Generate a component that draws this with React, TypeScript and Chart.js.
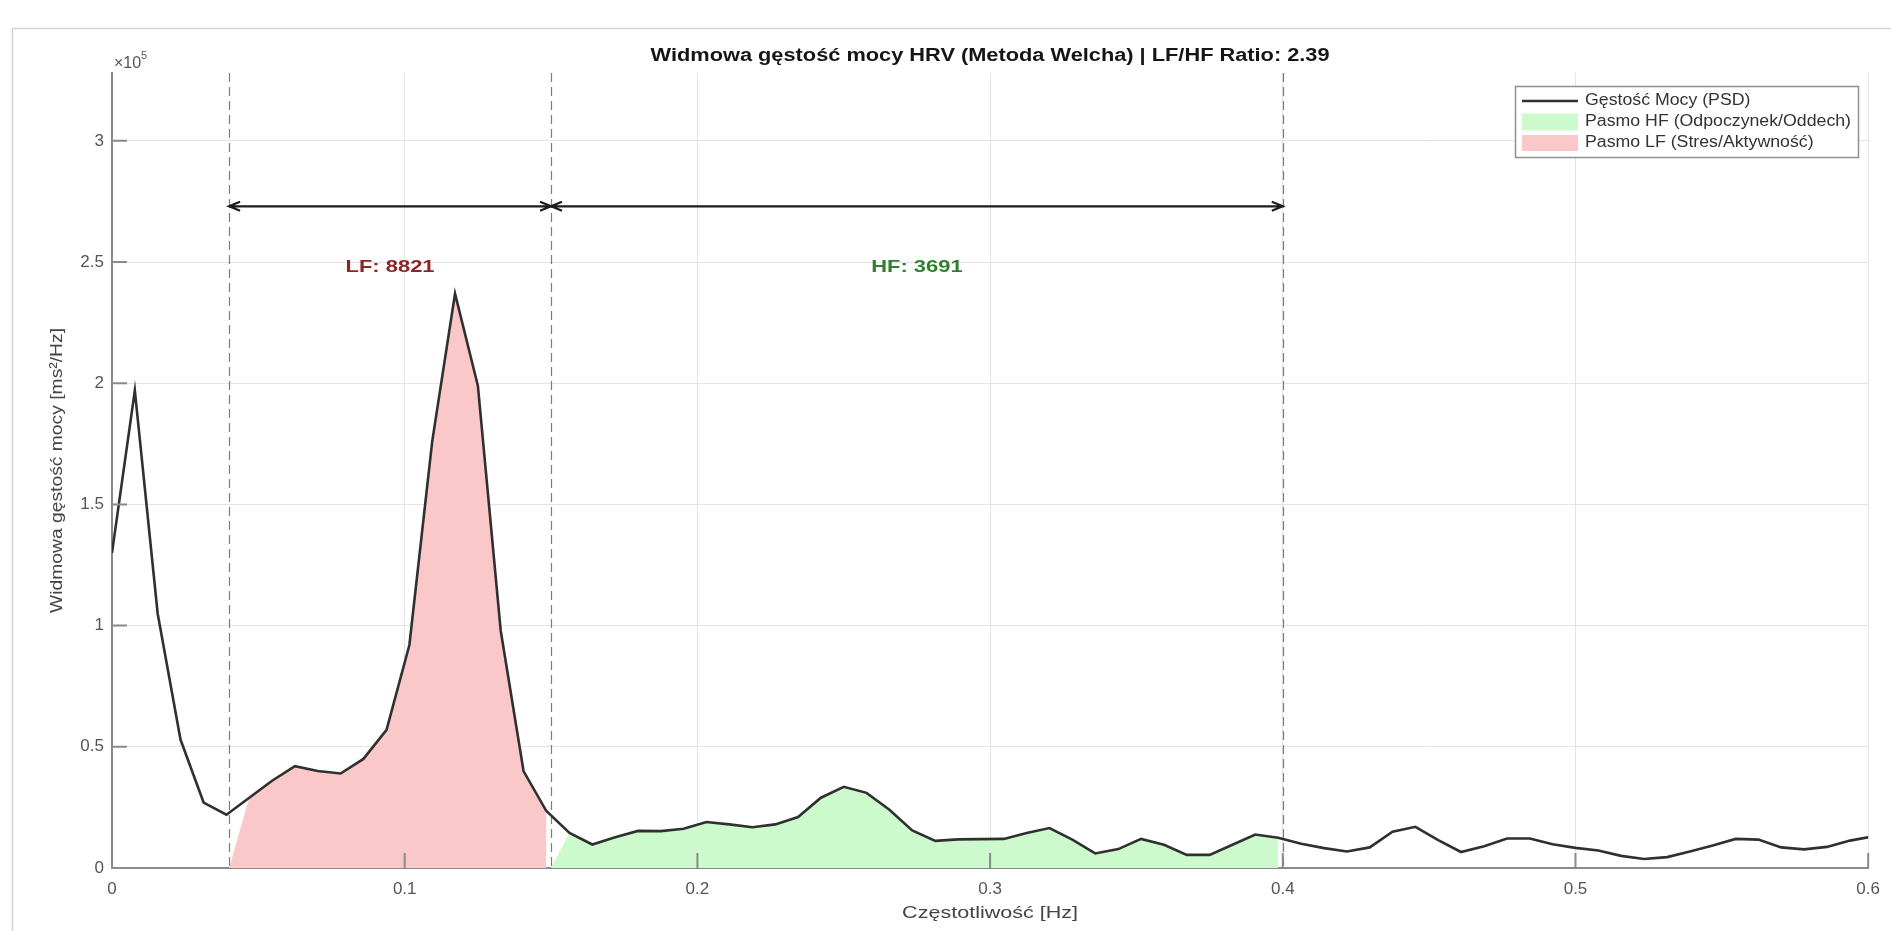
import React, { useEffect, useRef } from 'react';
import { Chart, registerables } from 'chart.js';

Chart.register(...registerables);

// ---------- data ----------
const frequencies = [
  0, 0.0078, 0.0156, 0.0234, 0.0313, 0.0391, 0.0469, 0.0547, 0.0625, 0.0703,
  0.0781, 0.0859, 0.0938, 0.1016, 0.1094, 0.1172, 0.125, 0.1328, 0.1406, 0.1484,
  0.1563, 0.1641, 0.1719, 0.1797, 0.1875, 0.1953, 0.2031, 0.2109, 0.2188, 0.2266,
  0.2344, 0.2422, 0.25, 0.2578, 0.2656, 0.2734, 0.2813, 0.2891, 0.2969, 0.3047,
  0.3125, 0.3203, 0.3281, 0.3359, 0.3438, 0.3516, 0.3594, 0.3672, 0.375, 0.3828,
  0.3906, 0.3984, 0.4063, 0.4141, 0.4219, 0.4297, 0.4375, 0.4453, 0.4531, 0.4609,
  0.4688, 0.4766, 0.4844, 0.4922, 0.5, 0.5078, 0.5156, 0.5234, 0.5313, 0.5391,
  0.5469, 0.5547, 0.5625, 0.5703, 0.5781, 0.5859, 0.5938, 0.6016,
];

const psdValues = [
  130000, 197000, 105000, 53000, 27000, 22000, 29000, 36000, 42000, 40000,
  39000, 45000, 57000, 92000, 176000, 237000, 199000, 98000, 40000, 23500,
  14500, 9700, 12700, 15300, 15200, 16200, 19000, 18000, 16800, 18000,
  21000, 29000, 33500, 31000, 24000, 15500, 11200, 11800, 11900, 12000,
  14400, 16500, 11700, 6000, 7800, 12000, 9600, 5400, 5400, 9600,
  13800, 12500, 10000, 8200, 6800, 8500, 15000, 17000, 11500, 6600,
  9000, 12200, 12200, 9800, 8300, 7200, 5000, 3700, 4500, 6800,
  9300, 12000, 11700, 8500, 7700, 8700, 11300, 13000,
];

const lfBand = [0.04, 0.15];
const hfBand = [0.15, 0.4];
const xTickValues = [0, 0.1, 0.2, 0.3, 0.4, 0.5, 0.6];
const yTickValues = [0, 50000, 100000, 150000, 200000, 250000, 300000];
const xRange = [0, 0.6];
const yRange = [0, 328000];
const lfPower = 8821;
const hfPower = 3691;
const lfHfRatio = 2.39;
const arrowLevel = 273000;
const bandLabelLevel = 248000;
const legendLabels = [
  'Gęstość Mocy (PSD)',
  'Pasmo HF (Odpoczynek/Oddech)',
  'Pasmo LF (Stres/Aktywność)',
];
const chartTitle = `Widmowa gęstość mocy HRV (Metoda Welcha) | LF/HF Ratio: ${lfHfRatio.toFixed(2)}`;
const xAxisTitle = 'Częstotliwość [Hz]';
const yAxisTitle = 'Widmowa gęstość mocy [ms²/Hz]';

// ---------- styles ----------
const FONT = '"Liberation Sans", Arial, Helvetica, sans-serif';
const LINE_COLOR = '#303030';
const HF_FILL = 'rgb(204, 250, 204)';
const LF_FILL = 'rgb(250, 200, 200)';
const LF_TEXT = '#8a2626';
const HF_TEXT = '#2f7f2f';
const AXIS_COLOR = '#8a8a8a';
const GRID_COLOR = '#e4e4e4';

function bandPoints(lo: number, hi: number) {
  const pts: { x: number; y: number }[] = [{ x: lo, y: 0 }];
  let lastX = lo;
  frequencies.forEach((f, i) => {
    if (f >= lo && f < hi) {
      pts.push({ x: f, y: psdValues[i] });
      lastX = f;
    }
  });
  pts.push({ x: lastX, y: 0 });
  return pts;
}

function drawText(
  ctx: CanvasRenderingContext2D,
  text: string,
  x: number,
  y: number,
  o: { size: number; bold?: boolean; color: string; align?: 'center' | 'left'; width?: number; sx?: number; rotate?: boolean }
) {
  ctx.save();
  ctx.font = `${o.bold ? 'bold ' : ''}${o.size}px ${FONT}`;
  ctx.fillStyle = o.color;
  ctx.textBaseline = 'middle';
  ctx.textAlign = 'left';
  const w = ctx.measureText(text).width;
  const sx = o.width ? o.width / w : o.sx ?? 1;
  ctx.translate(x, y);
  if (o.rotate) ctx.rotate(-Math.PI / 2);
  ctx.scale(sx, 1);
  const ox = (o.align ?? 'center') === 'center' ? -w / 2 : 0;
  ctx.fillText(text, ox, 0);
  ctx.restore();
  return sx;
}

function drawDoubleArrow(ctx: CanvasRenderingContext2D, x1: number, x2: number, y: number) {
  const hl = 11;
  const hw = 4.5;
  ctx.save();
  ctx.strokeStyle = '#1c1c1c';
  ctx.lineWidth = 2.2;
  ctx.beginPath();
  ctx.moveTo(x1, y);
  ctx.lineTo(x2, y);
  ctx.moveTo(x1 + hl, y - hw);
  ctx.lineTo(x1, y);
  ctx.lineTo(x1 + hl, y + hw);
  ctx.moveTo(x2 - hl, y - hw);
  ctx.lineTo(x2, y);
  ctx.lineTo(x2 - hl, y + hw);
  ctx.stroke();
  ctx.restore();
}

const overlayPlugin = {
  id: 'overlay',
  beforeDatasetsDraw(chart: any) {
    const { ctx, chartArea, scales } = chart;
    const xs = scales.x;
    ctx.save();
    ctx.strokeStyle = '#7c7c7c';
    ctx.lineWidth = 1.2;
    ctx.setLineDash([9, 5]);
    [lfBand[0], lfBand[1], hfBand[1]].forEach((f) => {
      const px = Math.round(xs.getPixelForValue(f)) + 0.5;
      ctx.beginPath();
      ctx.moveTo(px, chartArea.top);
      ctx.lineTo(px, chartArea.bottom);
      ctx.stroke();
    });
    ctx.restore();
  },
  afterDatasetsDraw(chart: any) {
    const { ctx, chartArea, scales } = chart;
    const xs = scales.x;
    const ys = scales.y;
    // inward tick marks
    ctx.save();
    ctx.strokeStyle = AXIS_COLOR;
    ctx.lineWidth = 2;
    ctx.beginPath();
    yTickValues.forEach((v) => {
      const py = ys.getPixelForValue(v);
      ctx.moveTo(chartArea.left, py);
      ctx.lineTo(chartArea.left + 15, py);
    });
    xTickValues.forEach((v) => {
      const px = xs.getPixelForValue(v);
      ctx.moveTo(px, chartArea.bottom);
      ctx.lineTo(px, chartArea.bottom - 15);
    });
    ctx.stroke();
    ctx.restore();

    // band arrows
    const ay = ys.getPixelForValue(arrowLevel);
    drawDoubleArrow(ctx, xs.getPixelForValue(lfBand[0]), xs.getPixelForValue(lfBand[1]), ay);
    drawDoubleArrow(ctx, xs.getPixelForValue(hfBand[0]), xs.getPixelForValue(hfBand[1]), ay);

    // band labels
    const ly = ys.getPixelForValue(bandLabelLevel);
    const sx = drawText(ctx, `LF: ${lfPower}`, xs.getPixelForValue((lfBand[0] + lfBand[1]) / 2), ly, {
      size: 17, bold: true, color: LF_TEXT, width: 89,
    });
    drawText(ctx, `HF: ${hfPower}`, xs.getPixelForValue((hfBand[0] + hfBand[1]) / 2), ly, {
      size: 17, bold: true, color: HF_TEXT, sx,
    });
  },
  afterDraw(chart: any) {
    const { ctx, chartArea } = chart;
    const cx = (chartArea.left + chartArea.right) / 2;
    const cy = (chartArea.top + chartArea.bottom) / 2;

    // figure frame
    ctx.save();
    ctx.strokeStyle = '#d2d2d2';
    ctx.lineWidth = 1.5;
    ctx.strokeRect(12.5, 28.5, 1900, 940);
    ctx.restore();

    // title & axis titles
    drawText(ctx, chartTitle, cx, 56, { size: 18, bold: true, color: '#151515', width: 679 });
    drawText(ctx, xAxisTitle, cx, 913, { size: 17, color: '#444444', width: 176 });
    drawText(ctx, yAxisTitle, 57, cy, { size: 17, color: '#444444', width: 285, rotate: true });

    // exponent marker
    drawText(ctx, '×10', chartArea.left + 2, 64, { size: 16, color: '#555555', align: 'left', sx: 1.0 });
    drawText(ctx, '5', chartArea.left + 29, 56, { size: 11, color: '#555555', align: 'left', sx: 1.0 });

    // legend
    const bx = 1515.5;
    const by = 86.5;
    const bw = 343;
    const bh = 71;
    ctx.save();
    ctx.fillStyle = '#ffffff';
    ctx.fillRect(bx, by, bw, bh);
    ctx.strokeStyle = '#909090';
    ctx.lineWidth = 1.5;
    ctx.strokeRect(bx, by, bw, bh);
    const rows = [101, 122, 143];
    const sx0 = 1522;
    const sx1 = 1578;
    ctx.strokeStyle = LINE_COLOR;
    ctx.lineWidth = 2.4;
    ctx.beginPath();
    ctx.moveTo(sx0, rows[0]);
    ctx.lineTo(sx1, rows[0]);
    ctx.stroke();
    ctx.fillStyle = HF_FILL;
    ctx.fillRect(sx0, rows[1] - 8.5, sx1 - sx0, 17);
    ctx.fillStyle = LF_FILL;
    ctx.fillRect(sx0, rows[2] - 8, sx1 - sx0, 16);
    ctx.restore();
    ctx.save();
    ctx.font = `16px ${FONT}`;
    const refW = ctx.measureText(legendLabels[1]).width;
    ctx.restore();
    const lsx = 266 / refW;
    legendLabels.forEach((t, i) => {
      drawText(ctx, t, 1585, rows[i], { size: 16, color: '#333333', align: 'left', sx: lsx });
    });
  },
};

export default function App() {
  const canvasRef = useRef<HTMLCanvasElement>(null);

  useEffect(() => {
    document.body.style.margin = '0';
    const canvas = canvasRef.current;
    if (!canvas) return;

    const psdPoints = frequencies.map((f, i) => ({ x: f, y: psdValues[i] }));

    const chart = new Chart(canvas, {
      type: 'line',
      data: {
        datasets: [
          {
            label: legendLabels[0],
            data: psdPoints,
            borderColor: LINE_COLOR,
            borderWidth: 2.6,
            pointRadius: 0,
            tension: 0,
            fill: false,
          },
          {
            label: legendLabels[1],
            data: bandPoints(hfBand[0], hfBand[1]),
            borderWidth: 0,
            borderColor: 'rgba(0,0,0,0)',
            backgroundColor: HF_FILL,
            pointRadius: 0,
            tension: 0,
            fill: 'origin',
          },
          {
            label: legendLabels[2],
            data: bandPoints(lfBand[0], lfBand[1]),
            borderWidth: 0,
            borderColor: 'rgba(0,0,0,0)',
            backgroundColor: LF_FILL,
            pointRadius: 0,
            tension: 0,
            fill: 'origin',
          },
        ],
      },
      options: {
        responsive: false,
        animation: false,
        devicePixelRatio: 1,
        parsing: false as any,
        layout: { padding: { top: 73, right: 19, left: 0, bottom: 0 } },
        plugins: {
          legend: { display: false },
          tooltip: { enabled: false },
          title: { display: false },
        },
        scales: {
          x: {
            type: 'linear',
            min: xRange[0],
            max: xRange[1],
            afterBuildTicks: (s: any) => {
              s.ticks = xTickValues.map((v) => ({ value: v }));
            },
            afterFit: (s: any) => {
              s.height = 63;
            },
            grid: {
              color: (c: any) => (c.tick && c.tick.value === 0 ? 'rgba(0,0,0,0)' : GRID_COLOR),
              drawTicks: false,
              lineWidth: 1,
            },
            border: { display: true, color: AXIS_COLOR, width: 2 },
            ticks: {
              padding: 11,
              color: '#555555',
              font: { family: FONT, size: 17 },
              maxRotation: 0,
              callback: (v: any) => String(Number(Number(v).toFixed(1))),
            },
          },
          y: {
            type: 'linear',
            min: yRange[0],
            max: yRange[1],
            afterBuildTicks: (s: any) => {
              s.ticks = yTickValues.map((v) => ({ value: v }));
            },
            afterFit: (s: any) => {
              s.width = 112;
            },
            grid: {
              color: (c: any) => (c.tick && c.tick.value === 0 ? 'rgba(0,0,0,0)' : GRID_COLOR),
              drawTicks: false,
              lineWidth: 1,
            },
            border: { display: true, color: AXIS_COLOR, width: 2 },
            ticks: {
              padding: 8,
              color: '#555555',
              font: { family: FONT, size: 17 },
              callback: (v: any) => String(Number((Number(v) / 100000).toFixed(1))),
            },
          },
        },
      },
      plugins: [overlayPlugin],
    });

    return () => chart.destroy();
  }, []);

  return (
    <div style={{ position: 'absolute', left: 0, top: 0, width: 1891, height: 931, background: '#ffffff' }}>
      <canvas ref={canvasRef} width={1891} height={931} style={{ display: 'block', width: 1891, height: 931 }} />
    </div>
  );
}
